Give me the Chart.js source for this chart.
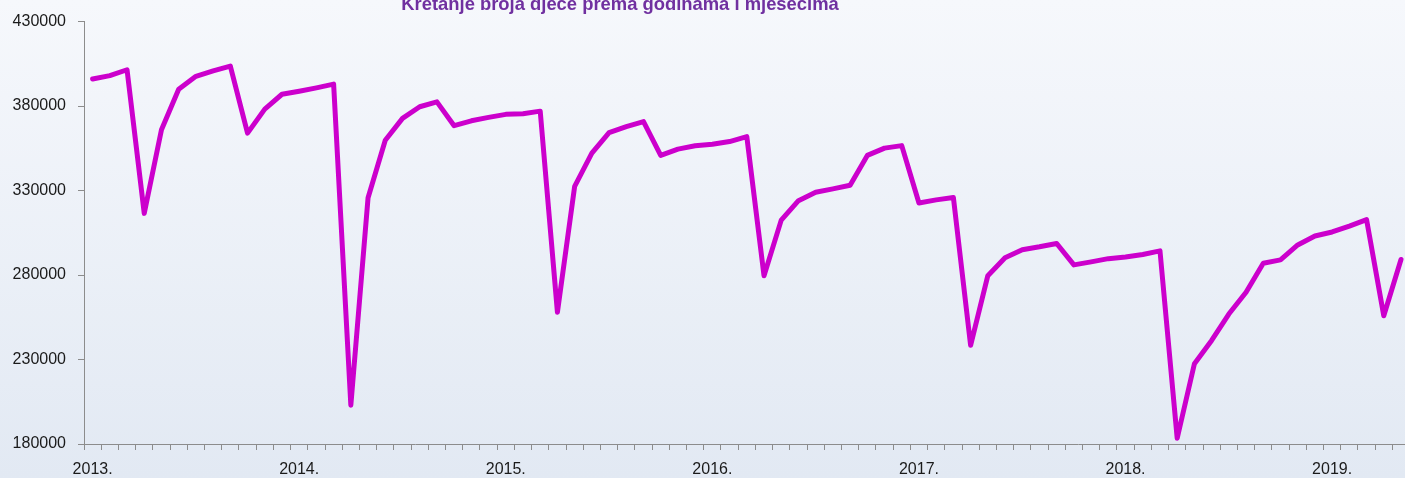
<!DOCTYPE html>
<html>
<head>
<meta charset="utf-8">
<script src="https://cdn.jsdelivr.net/npm/chart.js@4/dist/chart.umd.min.js"></script>
<style>
  html, body { margin: 0; padding: 0; background: #ffffff; overflow: hidden; }
  #wrap { width: 1405px; height: 478px; overflow: hidden; }
</style>
</head>
<body>
<div id="wrap"><canvas id="graphDjeca" width="1411" height="478"></canvas></div>
<script>
// godine i mjeseci (sij 2013. - svi 2019.)
const years = [2013, 2014, 2015, 2016, 2017, 2018, 2019];
const lastYearMonths = 5;

// broj djece po mjesecima
const djeca2013 = [396000, 398000, 401500, 316500, 366000, 390000, 397600, 400800, 403700, 364000, 378200, 387000];
const djeca2014 = [388800, 390800, 393000, 203000, 325700, 359800, 372700, 379600, 382500, 368400, 371300, 373300];
const djeca2015 = [375100, 375500, 377000, 258000, 332500, 352100, 364300, 367800, 370800, 350800, 354500, 356500];
const djeca2016 = [357400, 359000, 361900, 279600, 312500, 324000, 329000, 331000, 333100, 350800, 355100, 356600];
const djeca2017 = [322600, 324500, 325900, 238400, 279600, 290200, 295000, 296700, 298700, 286000, 287800, 289700];
const djeca2018 = [290700, 292200, 294300, 183400, 227500, 241300, 256900, 269800, 287000, 289000, 297800, 303100];
const djeca2019 = [305500, 309000, 312800, 255900, 289200];

const yMin = 180000;
const yMax = 430000;
const yStep = 50000;

const naslov = 'Kretanje broja djece prema godinama i mjesecima';

let labels = [];
years.forEach(function(y, i) {
    let n = (i == years.length - 1) ? lastYearMonths : 12;
    for (let m = 1; m <= n; m++) {
        labels.push({ year: y, month: m });
    }
});

const allValues = [].concat(djeca2013, djeca2014, djeca2015, djeca2016, djeca2017, djeca2018, djeca2019);

// pozadina s prijelazom boje + naslov
const pozadina = {
    id: 'pozadina',
    beforeDraw(chart) {
        const ctx = chart.ctx;
        const g = ctx.createLinearGradient(0, 0, 0, chart.height);
        g.addColorStop(0, '#f6f8fc');
        g.addColorStop(1, '#e2e9f3');
        ctx.save();
        ctx.fillStyle = g;
        ctx.fillRect(0, 0, chart.width, chart.height);
        ctx.restore();
    },
    afterDraw(chart) {
        const ctx = chart.ctx;
        ctx.save();
        ctx.font = 'bold 18.4px "Liberation Sans", Arial, sans-serif';
        ctx.fillStyle = '#7030a0';
        ctx.textAlign = 'center';
        ctx.textBaseline = 'alphabetic';
        ctx.fillText(naslov, 620, 10);
        ctx.restore();
    }
};

const config = {
    type: 'line',
    data: {
        labels: labels.map(l => l.year + '-' + l.month),
        datasets: [{
            label: 'Broj djece',
            data: allValues,
            borderColor: '#cc00cc',
            borderWidth: 5,
            borderJoinStyle: 'round',
            borderCapStyle: 'round',
            pointRadius: 0,
            fill: false,
            tension: 0
        }]
    },
    options: {
        responsive: false,
        animation: false,
        devicePixelRatio: 1,
        layout: { padding: { top: 19, right: 0, left: 0, bottom: 0 } },
        plugins: {
            legend: { display: false },
            title: { display: false },
            tooltip: { enabled: false }
        },
        scales: {
            x: {
                type: 'category',
                offset: true,
                grid: {
                    display: true,
                    drawOnChartArea: false,
                    offset: true,
                    tickLength: 6,
                    color: '#8c8c8c'
                },
                border: { display: true, color: '#8c8c8c', width: 1 },
                ticks: {
                    autoSkip: false,
                    maxRotation: 0,
                    minRotation: 0,
                    padding: 10,
                    color: '#1a1a1a',
                    font: { family: '"Liberation Sans", Arial, sans-serif', size: 16 },
                    callback: function(val, i) {
                        return labels[i].month == 1 ? labels[i].year + '.' : '';
                    }
                },
                afterFit: function(scale) { scale.height = 34; }
            },
            y: {
                min: yMin,
                max: yMax,
                grid: {
                    display: true,
                    drawOnChartArea: false,
                    tickLength: 6,
                    color: '#8c8c8c'
                },
                border: { display: true, color: '#8c8c8c', width: 1 },
                ticks: {
                    stepSize: yStep,
                    padding: 12,
                    color: '#1a1a1a',
                    font: { family: '"Liberation Sans", Arial, sans-serif', size: 16 },
                    callback: function(v) { return String(v); }
                },
                afterFit: function(scale) { scale.width = 84; }
            }
        }
    },
    plugins: [pozadina]
};

const ctx = document.getElementById('graphDjeca');
const myChart = new Chart(ctx, config);
</script>
</body>
</html>
